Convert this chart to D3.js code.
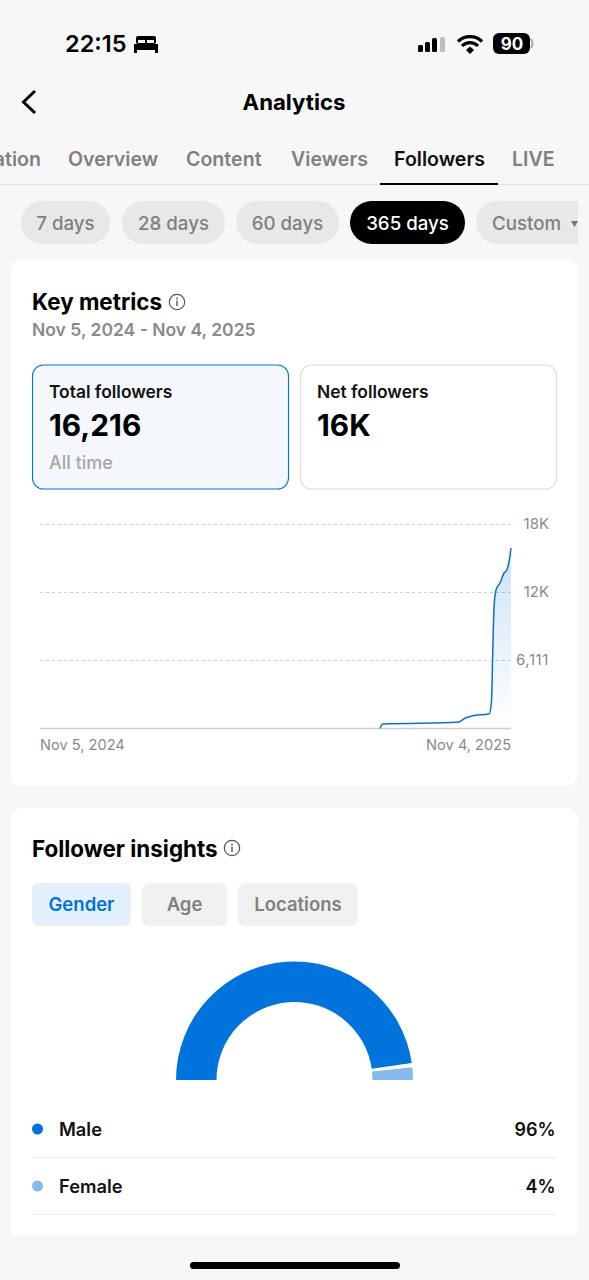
<!DOCTYPE html>
<html><head><meta charset="utf-8">
<script src="https://cdn.jsdelivr.net/npm/d3@7"></script>
<style>html,body{margin:0;padding:0;background:#f7f7f7}svg{display:block}text{font-family:Inter,"Noto Sans",sans-serif}</style>
</head><body><div id="c"></div>
<script>
const days=[0,262.8,264.8,323,328.5,333.6,347.2,349,349.8,350.9,352.4,355.5,358.6,360.7,362.7,364];
const followers=[0,0,404,557,917,1123,1330,2561,6452,10946,12447,13076,13975,14244,15143,16216];
const yTicks=[6111,12222,18333];
const yTickLabels=["6,111","12K","18K"];
const xLabels=["Nov 5, 2024","Nov 4, 2025"];
const tabs=["Inspiration","Overview","Content","Viewers","Followers","LIVE"];
const tabX=[41,68,186,291,394,512];
const pills=["7 days","28 days","60 days","365 days","Custom"];
const pillX=[[21,110],[122,225],[236,339],[350,465],[476,578]];
const genders=["Male","Female"];
const genderShare=[96,4];
const genderColors=["#0073dc","#85bbec"];
const insightTabs=["Gender","Age","Locations"];
const insightX=[[32,131],[142,227],[238,358]];

const svg=d3.select("#c").append("svg").attr("width",589).attr("height",1280).attr("viewBox","0 0 589 1280");
svg.append("rect").attr("width",589).attr("height",1280).attr("fill","#f7f7f7");
function T(x,y,s,size,weight,fill,anchor){return svg.append("text").attr("x",x).attr("y",y).text(s).attr("font-size",size).attr("font-weight",weight).attr("fill",fill).attr("text-anchor",anchor||"start");}

// status bar
T(65,52,"22:15",23.5,600,"#000");
svg.append("rect").attr("x",134).attr("y",44).attr("width",24).attr("height",6).attr("fill","#000");
svg.append("rect").attr("x",134).attr("y",50).attr("width",3).attr("height",3).attr("fill","#000");
svg.append("rect").attr("x",155).attr("y",50).attr("width",3).attr("height",3).attr("fill","#000");
svg.append("rect").attr("x",136).attr("y",36).attr("width",20).attr("height",8).attr("rx",2).attr("fill","#000");
svg.append("rect").attr("x",138).attr("y",40).attr("width",7).attr("height",3).attr("fill","#f7f7f7");
svg.append("rect").attr("x",147).attr("y",40).attr("width",7).attr("height",3).attr("fill","#f7f7f7");
[[418,45,5,7],[425,42,5,10],[432,38,5,14]].forEach(d=>svg.append("rect").attr("x",d[0]).attr("y",d[1]).attr("width",d[2]).attr("height",d[3]).attr("rx",1.500).attr("fill","#000"));
svg.append("rect").attr("x",440).attr("y",37).attr("width",5).attr("height",15).attr("rx",1.500).attr("fill","#bdbdbd");
svg.append("path").attr("d","M458 41.500a17 17 0 0 1 24 0M462 46a11 11 0 0 1 16 0").attr("fill","none").attr("stroke","#000").attr("stroke-width",3.200);
svg.append("path").attr("d","M466 50l4-3.500 4 3.500-4 4z").attr("fill","#000");
svg.append("rect").attr("x",493).attr("y",33).attr("width",37).attr("height",21).attr("rx",6).attr("fill","#000");
svg.append("path").attr("d","M531 39q3 4 0 9").attr("stroke","#aaa").attr("stroke-width",2).attr("fill","none");
T(512,50,"90",17,700,"#fff","middle");

// header
svg.append("path").attr("d","M35 91L23.500 102 35 113").attr("fill","none").attr("stroke","#000").attr("stroke-width",3);
T(294,110,"Analytics",22.2,700,"#000","middle");
tabs.forEach((t,i)=>T(tabX[i],166,t,19.6,600,t==="Followers"?"#111":"#808080",i===0?"end":"start"));
svg.append("rect").attr("x",0).attr("y",184).attr("width",589).attr("height",1).attr("fill","#e4e4e4");
svg.append("rect").attr("x",380).attr("y",183).attr("width",118).attr("height",2).attr("fill","#000");

// pills
pills.forEach((p,i)=>{
  const on=p==="365 days",[a,b]=pillX[i];
  if(i<4) svg.append("rect").attr("x",a).attr("y",201).attr("width",b-a).attr("height",43).attr("rx",21.500).attr("fill",on?"#000":"#e8e8e8");
  else svg.append("path").attr("d",`M${b} 201H${a+21.500}a21.500 21.500 0 0 0 0 43H${b}z`).attr("fill","#e8e8e8");
  if(i<4) T((a+b)/2,230,p,18.700,500,on?"#fff":"#808080","middle");
  else T(a+16,230,p,18.700,500,"#808080");
});
svg.append("path").attr("d","M571 221h7v0l-3.500 6z").attr("fill","#777");

// cards
svg.append("rect").attr("x",11).attr("y",260).attr("width",567).attr("height",526).attr("rx",11).attr("fill","#fff");
svg.append("path").attr("d","M11 1235V820a12 12 0 0 1 12-12H566a12 12 0 0 1 12 12V1235z").attr("fill","#fff");

function info(cx,cy){
  svg.append("circle").attr("cx",cx).attr("cy",cy).attr("r",7.700).attr("fill","none").attr("stroke","#555").attr("stroke-width",1.200);
  svg.append("rect").attr("x",cx-.7).attr("y",cy-1.500).attr("width",1.400).attr("height",5.500).attr("fill","#555");
  svg.append("circle").attr("cx",cx).attr("cy",cy-3.500).attr("r",.9).attr("fill","#555");
}
T(32,310,"Key metrics",22.4,700,"#000"); info(177,302);
T(32,336,"Nov 5, 2024 - Nov 4, 2025",17.500,600,"#8a8a8a");
svg.append("rect").attr("x",32.500).attr("y",365).attr("width",256).attr("height",124).attr("rx",11).attr("fill","#f4f8fc").attr("stroke","#0073dc").attr("stroke-width",1.100);
svg.append("rect").attr("x",300.500).attr("y",365).attr("width",256).attr("height",124).attr("rx",11).attr("fill","#fff").attr("stroke","#dcdcdc").attr("stroke-width",1.100);
T(49,398,"Total followers",17.400,600,"#111");
T(49,436,"16,216",29.800,700,"#000");
T(49,469,"All time",18,500,"#a6a6a6");
T(317,398,"Net followers",17.400,600,"#111");
T(317,436,"16K",29.800,700,"#000");

// line chart
const x=d3.scaleLinear().domain([0,364]).range([40,511]);
const y=d3.scaleLinear().domain([0,18333]).range([728.500,524.500]);
const grad=svg.append("defs").append("linearGradient").attr("id","g").attr("x1",0).attr("x2",0).attr("y1",0).attr("y2",1);
grad.append("stop").attr("offset","0").attr("stop-color","#0073dc").attr("stop-opacity",.2);
grad.append("stop").attr("offset","1").attr("stop-color","#0073dc").attr("stop-opacity",0);
const pts=days.map((d,i)=>[d,followers[i]]);
svg.append("g").selectAll("line").data(yTicks).join("line")
  .attr("x1",40).attr("x2",511).attr("y1",d=>y(d)).attr("y2",d=>y(d))
  .attr("stroke","#cfcfcf").attr("stroke-width",1).attr("stroke-dasharray","3 3");
svg.append("path").datum(pts).attr("fill","url(#g)").attr("d",d3.area().x(d=>x(d[0])).y0(y(0)).y1(d=>y(d[1])).curve(d3.curveMonotoneX));
svg.append("line").attr("x1",40).attr("x2",511).attr("y1",y(0)).attr("y2",y(0)).attr("stroke","#cfcfcf").attr("stroke-width",1.500);
svg.append("path").datum(pts.slice(1)).attr("fill","none").attr("stroke","#0a70d2").attr("stroke-width",1.500)
  .attr("d",d3.line().x(d=>x(d[0])).y(d=>y(d[1])).curve(d3.curveMonotoneX));
yTicks.forEach((t,i)=>T(549,y(t)+4.500,yTickLabels[i],15,400,"#8a8a8a","end").attr("letter-spacing",i===0?.6:0));
T(40,750,xLabels[0],14.600,400,"#8a8a8a");
T(511,750,xLabels[1],14.600,400,"#8a8a8a","end");

// follower insights
T(32,857,"Follower insights",22.400,700,"#000"); info(232,848);
insightTabs.forEach((t,i)=>{
  const [a,b]=insightX[i],on=i===0;
  svg.append("rect").attr("x",a).attr("y",883).attr("width",b-a).attr("height",43).attr("rx",7).attr("fill",on?"#e3f0fb":"#f1f1f1");
  T((a+b)/2,911,t,18.500,600,on?"#0073dc":"#808080","middle");
});

// gauge
const pie=d3.pie().sort(null).startAngle(-Math.PI/2).endAngle(Math.PI/2);
const gap=0.018;
const arc=d3.arc().innerRadius(78).outerRadius(118.500);
pie(genderShare).forEach((a,i)=>{
  svg.append("path").attr("transform","translate(294.500,1080)")
    .attr("d",arc({startAngle:a.startAngle+(i?gap:0),endAngle:a.endAngle-(i?0:gap)}))
    .attr("fill",genderColors[i]);
});

// legend
genders.forEach((g,i)=>{
  const cy=1129+i*57;
  svg.append("circle").attr("cx",37.500).attr("cy",cy).attr("r",5.500).attr("fill",genderColors[i]);
  T(59,cy+6.500,g,18.300,600,"#111");
  T(555.500,cy+6.500,genderShare[i]+"%",18,600,"#111","end");
  svg.append("rect").attr("x",32).attr("y",cy+28).attr("width",525).attr("height",1).attr("fill","#efefef");
});
svg.append("rect").attr("x",190).attr("y",1262).attr("width",210).attr("height",7).attr("rx",3.500).attr("fill","#000");
</script></body></html>
